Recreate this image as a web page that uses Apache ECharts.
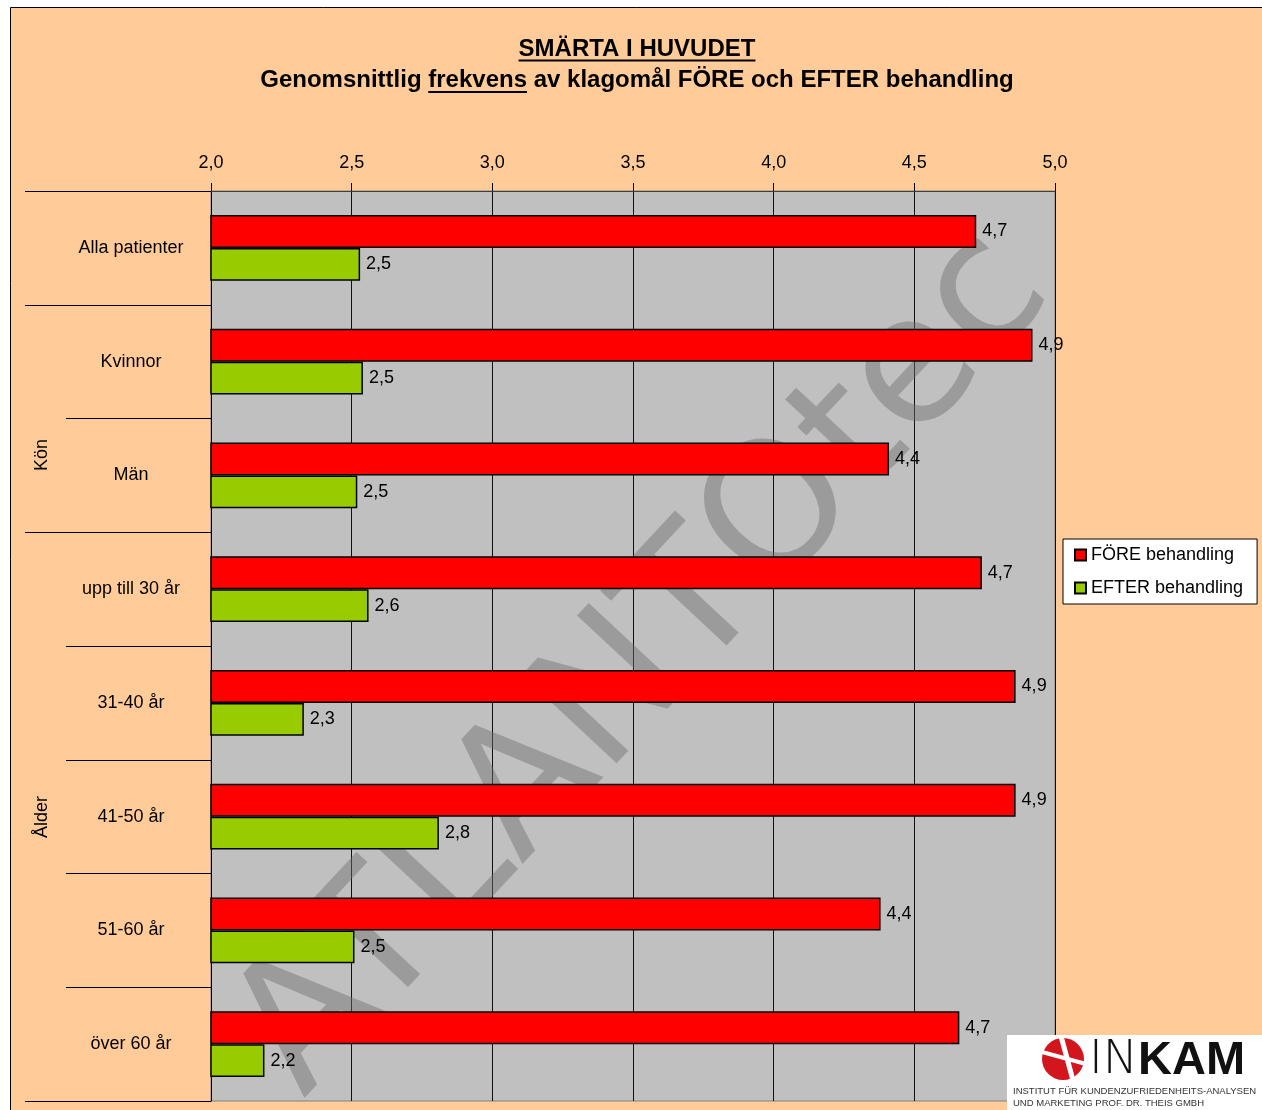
<!DOCTYPE html>
<html>
<head>
<meta charset="utf-8">
<script src="https://cdn.jsdelivr.net/npm/echarts@6/dist/echarts.min.js"></script>
<style>
  html, body { margin: 0; padding: 0; background: #fff; }
  #chart { width: 1262px; height: 1110px; }
</style>
</head>
<body>
<div id="chart"></div>
<script>
// data
const categories = ['Alla patienter', 'Kvinnor', 'Män', 'upp till 30 år', '31-40 år', '41-50 år', '51-60 år', 'över 60 år'];
const foreValues = [4.72, 4.92, 4.41, 4.74, 4.86, 4.86, 4.38, 4.66];
const efterValues = [2.53, 2.54, 2.52, 2.56, 2.33, 2.81, 2.51, 2.19];
const seriesNames = ['FÖRE behandling', 'EFTER behandling'];
const groupStarts = [0, 1, 3]; // first category of each group (Alla / Kön / Ålder)
const groupLabels = ['Kön', 'Ålder'];
const xMin = 2.0, xMax = 5.0, xStep = 0.5;

const FONT = '"Liberation Sans", Arial, sans-serif';
const comma = v => v.toFixed(1).replace('.', ',');

const chart = echarts.init(document.getElementById('chart'));

// measure title text so the underlines sit right
const ctx = document.createElement('canvas').getContext('2d');
ctx.font = 'bold 24px ' + FONT;
const title1 = 'SMÄRTA I HUVUDET';
const sub1 = 'Genomsnittlig ', subU = 'frekvens', sub2 = ' av klagomål FÖRE och EFTER behandling';
const cx = 637;
const t1w = ctx.measureText(title1).width;
const subW = ctx.measureText(sub1 + subU + sub2).width;
const uStart = cx - subW / 2 + ctx.measureText(sub1).width;
const uEnd = uStart + ctx.measureText(subU).width;

const option = {
  backgroundColor: '#fff',
  animation: false,
  textStyle: { fontFamily: FONT },
  grid: {
    left: 211, top: 191, right: 207, bottom: 9,
    show: true, backgroundColor: '#C0C0C0', borderColor: '#808080', borderWidth: 1
  },
  legend: {
    data: seriesNames,
    orient: 'vertical',
    left: 1063, top: 539,
    backgroundColor: '#fff', borderColor: '#000', borderWidth: 1,
    padding: [7, 14, 7, 11],
    itemGap: 15, itemWidth: 11, itemHeight: 11, icon: 'rect',
    textStyle: { fontSize: 18, color: '#000', fontFamily: FONT }
  },
  xAxis: {
    type: 'value', position: 'top',
    min: xMin, max: xMax, interval: xStep,
    axisLine: { show: true, lineStyle: { color: '#404040', width: 1 } },
    axisTick: { show: true, length: 8, lineStyle: { color: '#000' } },
    axisLabel: { fontSize: 18, color: '#000', margin: 19, formatter: v => comma(v) },
    splitLine: { show: true, lineStyle: { color: '#111', width: 1 } }
  },
  yAxis: [
    {
      type: 'category', inverse: true, data: categories, position: 'left',
      axisLine: { show: true, lineStyle: { color: '#000', width: 1 } },
      axisTick: { show: true, length: 145, lineStyle: { color: '#000' } },
      axisLabel: { fontSize: 18, color: '#000', align: 'center', margin: 80 },
      splitLine: { show: false }
    },
    {
      type: 'category', inverse: true, data: categories, position: 'left', offset: 0,
      axisLine: { show: false },
      axisTick: { show: true, length: 186, lineStyle: { color: '#000' },
        interval: i => groupStarts.indexOf(i) >= 0 },
      axisLabel: { show: false },
      splitLine: { show: false }
    }
  ],
  series: [
    {
      name: seriesNames[0], type: 'bar', data: foreValues,
      barGap: 0, barCategoryGap: '42%',
      itemStyle: { color: '#FF0000', borderColor: '#000', borderWidth: 1.5 },
      label: { show: true, position: 'right', distance: 6, fontSize: 18, color: '#000',
        formatter: p => comma(p.value) }
    },
    {
      name: seriesNames[1], type: 'bar', data: efterValues,
      barGap: 0, barCategoryGap: '42%',
      itemStyle: { color: '#99CC00', borderColor: '#000', borderWidth: 1.5 },
      label: { show: true, position: 'right', distance: 6, fontSize: 18, color: '#000',
        formatter: p => comma(p.value) }
    }
  ],
  graphic: [
    // peach frame
    { type: 'rect', z: -10, shape: { x: 10.5, y: 7.5, width: 1300, height: 1200 },
      style: { fill: '#FFCC99', stroke: '#000', lineWidth: 1 } },
    // watermark
    { type: 'text', z: 1, x: 645, y: 665, rotation: 47 * Math.PI / 180,
      style: { text: 'ATLANTOtec', fontSize: 178, fontFamily: '"DejaVu Sans", sans-serif',
        fill: 'rgba(110,110,110,0.45)', align: 'center', verticalAlign: 'middle' } },
    // titles
    { type: 'text', z: 5, x: cx, y: 49,
      style: { text: title1, fontSize: 24, fontWeight: 'bold', fontFamily: FONT, fill: '#000',
        align: 'center', verticalAlign: 'middle' } },
    { type: 'line', z: 5, shape: { x1: cx - t1w / 2, y1: 60.5, x2: cx + t1w / 2, y2: 60.5 },
      style: { stroke: '#000', lineWidth: 2 } },
    { type: 'text', z: 5, x: cx, y: 80,
      style: { text: sub1 + subU + sub2, fontSize: 24, fontWeight: 'bold', fontFamily: FONT, fill: '#000',
        align: 'center', verticalAlign: 'middle' } },
    { type: 'line', z: 5, shape: { x1: uStart, y1: 92, x2: uEnd, y2: 92 },
      style: { stroke: '#000', lineWidth: 2 } },
    // group labels
    { type: 'text', z: 5, x: 42, y: 455, rotation: Math.PI / 2,
      style: { text: groupLabels[0], fontSize: 18, fontFamily: FONT, fill: '#000',
        align: 'center', verticalAlign: 'middle' } },
    { type: 'text', z: 5, x: 42, y: 817, rotation: Math.PI / 2,
      style: { text: groupLabels[1], fontSize: 18, fontFamily: FONT, fill: '#000',
        align: 'center', verticalAlign: 'middle' } },
    // INKAM logo
    { type: 'rect', z: 10, shape: { x: 1007, y: 1035, width: 260, height: 80 }, style: { fill: '#fff' } },
    { type: 'circle', z: 10, shape: { cx: 1063, cy: 1059, r: 21 }, style: { fill: '#D3161E' } },
    { type: 'line', z: 11, shape: { x1: 1061, y1: 1036, x2: 1074, y2: 1084 }, style: { stroke: '#fff', lineWidth: 5 } },
    { type: 'line', z: 11, shape: { x1: 1042, y1: 1052, x2: 1086, y2: 1064 }, style: { stroke: '#fff', lineWidth: 4 } },
    { type: 'text', z: 11, x: 1089, y: 1061,
      style: { text: '{a|IN}{b|KAM}', verticalAlign: 'middle',
        rich: {
          a: { fontSize: 47, fontWeight: 'lighter', fontFamily: '"DejaVu Sans", sans-serif', fill: '#111' },
          b: { fontSize: 47, fontWeight: 'bold', fontFamily: FONT, fill: '#111' }
        } } },
    { type: 'text', z: 11, x: 1013, y: 1091,
      style: { text: 'INSTITUT FÜR KUNDENZUFRIEDENHEITS-ANALYSEN', fontSize: 9.5,
        fontFamily: '"Liberation Sans Narrow", ' + FONT, fill: '#333', verticalAlign: 'middle' } },
    { type: 'text', z: 11, x: 1013, y: 1103,
      style: { text: 'UND MARKETING PROF. DR. THEIS GMBH', fontSize: 9.5,
        fontFamily: '"Liberation Sans Narrow", ' + FONT, fill: '#333', verticalAlign: 'middle' } }
  ]
};

chart.setOption(option);
</script>
</body>
</html>
